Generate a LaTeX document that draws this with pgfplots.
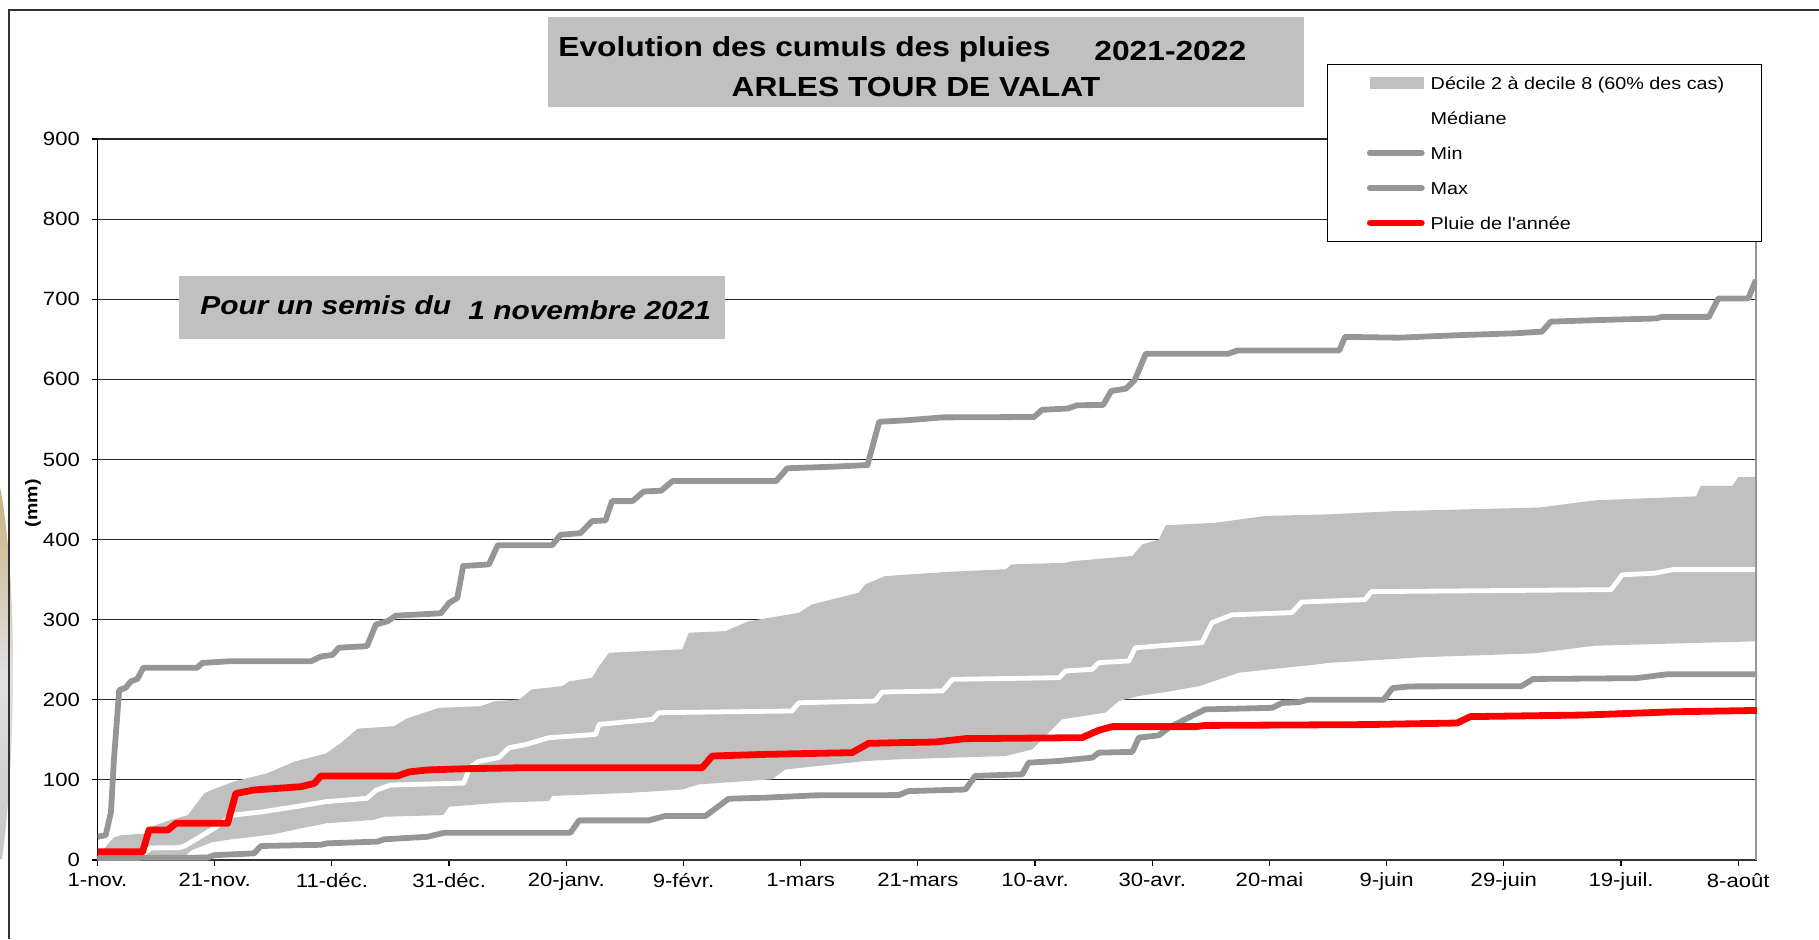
\documentclass[border=0pt]{standalone}
\usepackage{fontspec}
\setmainfont{Liberation Sans}[FakeStretch=1.15]
\newfontfamily\plainfont{Liberation Sans}[FakeStretch=1.15, Ligatures=TeXOff]
\usepackage{pgfplots}
\pgfplotsset{compat=1.18}
\usepgfplotslibrary{fillbetween}
\definecolor{bandgray}{RGB}{192,192,192}
\definecolor{linegray}{RGB}{150,150,150}
\definecolor{boxgray}{RGB}{192,192,192}
\definecolor{tanshade}{RGB}{200,178,130}
\begin{document}
\begin{tikzpicture}
\shade[top color=tanshade, bottom color=black!22, middle color=black!12]
  (0pt,226pt) .. controls (9pt,180pt) and (8pt,90pt) .. (1pt,40pt) -- (0pt,40pt) -- cycle;
\begin{axis}[
  at={(48.75pt,39.5pt)}, anchor=south west,
  scale only axis, width=829.75pt, height=360.5pt,
  xmin=0, xmax=283.2, ymin=0, ymax=900,
  axis lines*=left, axis line style={-},
  separate axis lines,
  x axis line style={black!80, line width=0.9pt},
  y axis line style={black, line width=0.9pt},
  xtick={0,20,...,280},
  xticklabels={1-nov.,21-nov.,11-déc.,31-déc.,20-janv.,9-févr.,1-mars,21-mars,10-avr.,30-avr.,20-mai,9-juin,29-juin,19-juil.,8-août},
  ytick={0,100,...,900},
  tick align=outside, major tick length=3pt,
  tick style={black, line width=0.6pt},
  ymajorgrids, major grid style={black!85, line width=0.55pt},
  ticklabel style={font=\fontsize{9.6}{11}\selectfont},
  yticklabel style={xshift=-2.3pt},
  /pgf/number format/assume math mode=true,
  ylabel={\textbf{(mm)}},
  ylabel style={at={(-0.0389,0.495)}, anchor=center, font=\fontsize{8.5}{10}\selectfont},
  legend style={at={(0.7407,1.104)}, anchor=north west, draw=black, line width=0.6pt, fill=white,
    inner xsep=18.6pt, inner ysep=4.9pt, row sep=9pt, /tikz/column sep=1.8pt,
    nodes={inner sep=0pt, text height=7.4pt, text depth=1.1pt, anchor=west},
    font=\fontsize{8.6}{10}\selectfont},
  legend cell align=left,
]
% band
\addplot[name path=d8, draw=none, forget plot] coordinates {(0,3) (2,22) (2.8,28) (4,31) (8,33) (8.5,40) (12.5,50) (15.4,56) (18.2,83) (19.3,87) (23.3,98) (29,108.4) (33.6,122.8) (39,133) (41.5,146) (44.4,164) (50.6,167) (52.9,177) (58.3,190) (65.4,192) (67.7,198) (72,200.5) (74.1,213) (79.3,217) (80.5,223) (84.4,227.5) (85.6,242) (87.3,258.7) (99.8,263) (100.9,283.7) (107.2,285.8) (111.1,298) (119.7,308.6) (121.9,319) (129.9,333.6) (131,344) (134.4,354.4) (144.7,359.5) (155,363) (156,369) (165.2,371) (166.3,373) (176.6,379.5) (178.3,394) (181.1,400) (182.3,417.8) (190.8,421) (199.3,429.5) (210.1,431.5) (221,435.4) (246,440) (255.5,449) (272.8,454) (273.6,467) (279,467) (280,478) (283.2,478)};
\addplot[name path=d2, draw=none, forget plot] coordinates {(0,0) (14,2) (15,5) (16,12) (19.5,22) (22,25) (30,32) (35,40) (39,45.8) (47,50) (49,54) (59,56) (60,66.5) (68.5,71.5) (77,73.6) (77.6,80) (91.25,84) (99.8,88) (102.6,94.4) (115.1,100.7) (117.4,113) (122.5,117) (131,123.5) (136.8,125.7) (155,129.8) (159.5,138) (164.6,175.6) (172,184) (174.3,198.5) (177.7,204.7) (182.3,209.7) (188,217) (194.8,233.9) (207.9,244) (210,246) (225.7,253) (245.3,258) (255.5,267.5) (272.8,271) (283.2,273)};
\addplot[bandgray, forget plot] fill between[of=d8 and d2];
% median
\addplot[white, line width=2.4pt, line join=round, forget plot] coordinates {(0,2) (8,8) (9,15) (14,15.5) (15,18) (20,40) (23,56) (28,60) (35,68) (39,72.8) (46,77) (47.5,87) (50,93.6) (62.5,96) (63.5,115) (65,123) (68.5,128) (70.2,140) (73,144) (77,152.6) (85,156.8) (85.6,169.3) (94.7,175.5) (95.8,183.9) (118.5,186) (119.7,196.3) (132.7,198.4) (133.9,209.7) (144.2,211) (145.9,225.5) (164.1,227.6) (165.2,236) (169.75,238) (170.9,246.4) (176,248.4) (177.1,265) (188.5,271.3) (190.2,296.3) (193.6,306) (203.8,308.8) (205.5,322) (216.3,325) (217.4,335) (258.3,337.5) (260.2,356) (265.7,358) (268.9,362.5) (283.2,362.5)};
% min
\addplot[linegray, line width=2.9pt, line join=round, forget plot] coordinates {(0,2.5) (18.8,3) (19.9,6) (26.7,8.3) (27.9,17.5) (38.1,19) (39.2,20.8) (47.8,23) (48.9,25.8) (56.3,29) (59.2,34) (80.7,34) (82.2,49.5) (94.1,49.5) (96.9,55) (103.75,55) (107.7,76.5) (114,77.8) (122.5,80.7) (136.7,81) (138.4,86) (148.1,88) (149.8,105) (157.8,107) (158.9,121.5) (164,123.6) (169.75,127.8) (170.9,134) (176.6,135) (177.7,152.7) (181.1,155.6) (182.8,165) (186.8,180) (189,188) (200.5,190) (202.1,196) (205,197) (206.5,200) (219.5,200) (221,214.6) (224,216.7) (243,217) (245,226) (262.6,227) (268,232) (283.2,232)};
% max
\addplot[linegray, line width=2.9pt, line join=round, forget plot] coordinates {(0,29) (1.4,31) (2.3,60) (2.8,125) (3.7,212) (4.8,215) (5.7,223) (6.8,226) (7.8,240) (17,240) (17.9,246) (22.2,248) (36.4,248) (38.1,254) (40.1,256) (41.2,265) (46,267) (47.5,294) (49.5,298) (50.9,305) (58.6,308) (60,321) (61.4,327) (62.4,367) (66.8,369) (68.3,393) (77.6,393) (79,406) (82.4,408) (84.4,423) (86.7,424) (87.8,448) (91.3,448) (93.2,460) (96.2,461) (98.1,473) (115.8,473) (117.7,489) (125.6,491) (131.4,493) (133.4,547) (138.3,549) (144.2,552.5) (159.8,553) (161.2,562) (165.6,563.6) (167.2,567.7) (171.6,568) (173,585.5) (175.5,588.4) (177,599) (178.9,632) (193,632) (194.5,636) (211.9,636) (212.9,653) (222,652) (231.7,655) (242,657.5) (246.5,659.6) (248,672) (256,674) (266,676) (267,678) (275,678) (276.6,701) (281.7,701) (283,724)};
\addplot[linegray, line width=1.1pt, forget plot] coordinates {(283,0) (283,900)};
% red
\addplot[red, line width=3.4pt, line join=round, forget plot] coordinates {(0,10.4) (7.7,10.4) (8.8,37.5) (12,37.5) (13.4,45.8) (22.2,45.8) (23.6,83) (26.7,87.4) (34.7,91.5) (37,95.7) (38.1,104.9) (51.2,104.9) (53.2,110) (56.3,112.4) (63,114) (72.8,115.2) (103.2,115.2) (104.9,129.8) (114,131.9) (128.75,134) (131.6,145.6) (136.8,146.5) (143,147.3) (148.1,151.5) (168,152.7) (170.9,162) (173.2,166.5) (187.4,166.5) (189.1,168) (216,169) (232,171) (234.3,179) (253.9,181) (268.9,185) (283.2,186.7)};
% legend
\addlegendimage{legend image code/.code={\fill[bandgray] (1.85pt,-2.5pt) rectangle (28pt,2.5pt);}}
\addlegendentry{Décile 2 à decile 8 (60\% des cas)}
\addlegendimage{legend image code/.code={\draw[white, line width=2.4pt] (0pt,0pt) -- (28.9pt,0pt);}}
\addlegendentry{Médiane}
\addlegendimage{legend image code/.code={\draw[linegray, line width=2.9pt, line cap=round] (1.45pt,0pt) -- (27.45pt,0pt);}}
\addlegendentry{Min}
\addlegendimage{legend image code/.code={\draw[linegray, line width=2.9pt, line cap=round] (1.45pt,0pt) -- (27.45pt,0pt);}}
\addlegendentry{Max}
\addlegendimage{legend image code/.code={\draw[red, line width=3.4pt, line cap=round] (1.7pt,0pt) -- (27.2pt,0pt);}}
\addlegendentry{{\plainfont Pluie de l'année}}
\end{axis}
\draw[line width=1pt, black!80] (4.5pt,0pt) -- (4.5pt,464.5pt) -- (909.5pt,464.5pt);
% title box
\fill[boxgray] (274pt,416pt) rectangle (652pt,461pt);
\node[anchor=base west, inner sep=0pt, font=\bfseries\fontsize{13.8}{16}\selectfont] at (279pt,441.3pt) {Evolution des cumuls des pluies};
\node[anchor=base west, inner sep=0pt, font=\bfseries\fontsize{13.8}{16}\selectfont] at (547pt,439.3pt) {2021-2022};
\node[anchor=base, inner sep=0pt, font=\bfseries\fontsize{13.8}{16}\selectfont] at (458pt,421pt) {ARLES TOUR DE VALAT};
% subtitle box
\fill[boxgray] (89.5pt,300pt) rectangle (362.5pt,331.5pt);
\node[anchor=base west, inner sep=0pt, font=\bfseries\itshape\fontsize{13}{15}\selectfont] at (100pt,312.3pt) {Pour un semis du};
\node[anchor=base west, inner sep=0pt, font=\bfseries\itshape\fontsize{13}{15}\selectfont] at (234pt,309.8pt) {1 novembre 2021};
\pgfresetboundingbox
\path[use as bounding box] (0pt,0pt) rectangle (909.5pt,469.5pt);
\end{tikzpicture}
\end{document}
